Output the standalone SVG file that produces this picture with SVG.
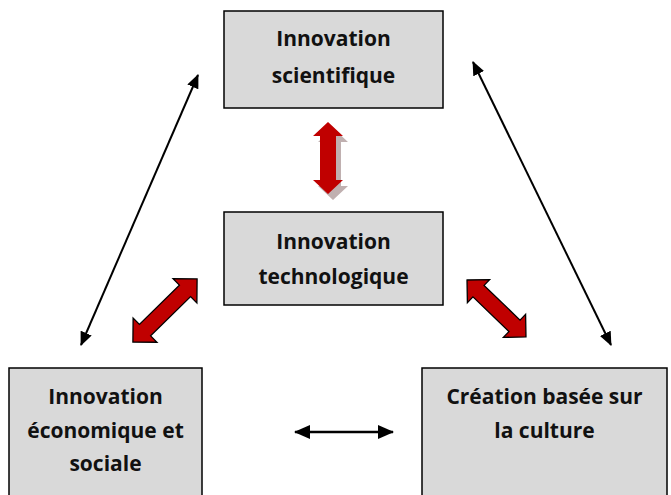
<svg xmlns="http://www.w3.org/2000/svg" width="671" height="495" viewBox="0 0 671 495">
  <style>
    .box { fill: #d9d9d9; stroke: #000; stroke-width: 1.5; }
    .lbl { font-family: "Open Sans", "Liberation Sans", sans-serif; font-weight: bold; font-size: 21px; fill: #111; text-anchor: middle; }
    .thin { fill: none; stroke: #000; stroke-width: 2; marker-start: url(#ah); marker-end: url(#ah); }
    .thick { fill: none; stroke: #000; stroke-width: 2.5; marker-start: url(#ah2); marker-end: url(#ah2); }
    .red { fill: #c00000; stroke: #000; stroke-width: 1.3; stroke-linejoin: miter; }
    .redns { fill: #c00000; }
    .shadow { fill: #8c7070; opacity: 0.55; }
  </style>
  <defs>
    <marker id="ah" markerUnits="userSpaceOnUse" markerWidth="14" markerHeight="12" refX="13" refY="6" orient="auto-start-reverse" viewBox="0 0 14 12">
      <path d="M0,0 L14,6 L0,12 z" fill="#000"/>
    </marker>
    <marker id="ah2" markerUnits="userSpaceOnUse" markerWidth="16" markerHeight="14" refX="15" refY="7" orient="auto-start-reverse" viewBox="0 0 16 14">
      <path d="M0,0 L16,7 L0,14 z" fill="#000"/>
    </marker>
    <!-- horizontal block double arrow, length 90, centred at origin -->
    <path id="blk" d="M-45,0 L-28,-17 L-28,-8 L28,-8 L28,-17 L45,0 L28,17 L28,8 L-28,8 L-28,17 z"/>
    <path id="blk2" d="M-41,0 L-25,-16 L-25,-8 L25,-8 L25,-16 L41,0 L25,16 L25,8 L-25,8 L-25,16 z"/>
    <path id="vblk" d="M0,-36 L15,-22 L8,-22 L8,22 L15,22 L0,36 L-15,22 L-8,22 L-8,-22 L-15,-22 z"/>
  </defs>

  <g id="node-scientifique">
    <rect class="box" x="224" y="11" width="219" height="97"/>
    <text class="lbl" x="333.5" y="46">Innovation</text>
    <text class="lbl" x="333.5" y="83">scientifique</text>
  </g>

  <g id="node-technologique">
    <rect class="box" x="224" y="212" width="219" height="93"/>
    <text class="lbl" x="333.5" y="249">Innovation</text>
    <text class="lbl" x="333.5" y="284">technologique</text>
  </g>

  <g id="node-economique">
    <rect class="box" x="9" y="368" width="193" height="135"/>
    <text class="lbl" x="105.5" y="404">Innovation</text>
    <text class="lbl" x="105.5" y="438">économique et</text>
    <text class="lbl" x="105.5" y="471">sociale</text>
  </g>

  <g id="node-culture">
    <rect class="box" x="422" y="368" width="245" height="135"/>
    <text class="lbl" x="544.5" y="404">Création basée sur</text>
    <text class="lbl" x="544.5" y="438">la culture</text>
  </g>

  <g id="connectors">
    <line class="thin" x1="198" y1="75" x2="81" y2="345"/>
    <line class="thin" x1="473" y1="62" x2="611" y2="345"/>
    <line class="thick" x1="295" y1="432" x2="393" y2="432"/>
    <use href="#vblk" class="shadow" transform="translate(333,164)"/>
    <use href="#vblk" class="redns" transform="translate(328,158)"/>
    <use href="#blk" class="red" transform="translate(165,310.5) rotate(-44.5)"/>
    <use href="#blk2" class="red" transform="translate(496.5,308.5) rotate(44)"/>
  </g>
</svg>
